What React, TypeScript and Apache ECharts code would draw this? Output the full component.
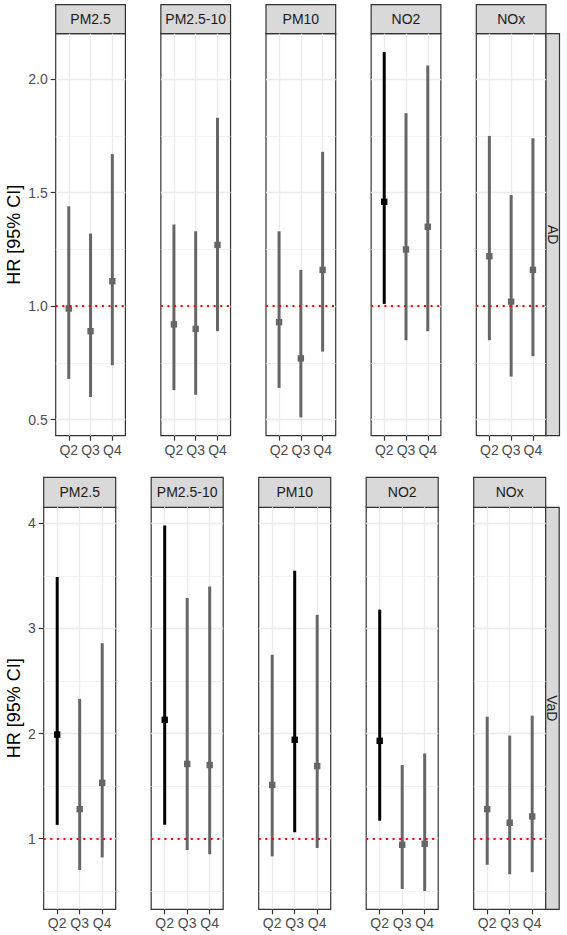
import React, { useEffect, useRef } from "react";
import * as echarts from "echarts";

// Categories
const quartiles = ["Q2", "Q3", "Q4"];
const pollutants = ["PM2.5", "PM2.5-10", "PM10", "NO2", "NOx"];
const outcomes = ["AD", "VaD"];

// Hazard ratios with 95% CI, Alzheimer's disease (AD)
const adHR = [
  [0.99, 0.89, 1.11],
  [0.92, 0.9, 1.27],
  [0.93, 0.77, 1.16],
  [1.46, 1.25, 1.35],
  [1.22, 1.02, 1.16],
];
const adLower = [
  [0.68, 0.6, 0.74],
  [0.63, 0.61, 0.89],
  [0.64, 0.51, 0.8],
  [1.01, 0.85, 0.89],
  [0.85, 0.69, 0.78],
];
const adUpper = [
  [1.44, 1.32, 1.67],
  [1.36, 1.33, 1.83],
  [1.33, 1.16, 1.68],
  [2.12, 1.85, 2.06],
  [1.75, 1.49, 1.74],
];

// Hazard ratios with 95% CI, vascular dementia (VaD)
const vadHR = [
  [1.99, 1.28, 1.53],
  [2.13, 1.71, 1.7],
  [1.51, 1.94, 1.69],
  [1.93, 0.94, 0.95],
  [1.28, 1.15, 1.21],
];
const vadLower = [
  [1.13, 0.7, 0.82],
  [1.13, 0.89, 0.85],
  [0.83, 1.06, 0.91],
  [1.17, 0.52, 0.5],
  [0.75, 0.66, 0.68],
];
const vadUpper = [
  [3.49, 2.33, 2.86],
  [3.98, 3.29, 3.4],
  [2.75, 3.55, 3.13],
  [3.18, 1.7, 1.81],
  [2.16, 1.98, 2.17],
];

// Tick labels
const adTicks = [0.5, 1.0, 1.5, 2.0];
const adMinorTicks = [0.75, 1.25, 1.75];
const vadTicks = [1, 2, 3, 4];
const vadMinorTicks = [0.5, 1.5, 2.5, 3.5];
const referenceHR = 1;

const FONT = "'Liberation Sans', Arial, Helvetica, sans-serif";
const GRID_COLOR = "#ebebeb";
const BORDER_COLOR = "#333333";

type Row = {
  outcome: string;
  hr: number[][];
  lower: number[][];
  upper: number[][];
  ticks: number[];
  minor: number[];
  digits: number;
  top: number;
  height: number;
  left0: number;
  step: number;
  width: number;
  stripTop: number;
  stripHeight: number;
  nameGap: number;
};

const rows: Row[] = [
  {
    outcome: outcomes[0],
    hr: adHR,
    lower: adLower,
    upper: adUpper,
    ticks: adTicks,
    minor: adMinorTicks,
    digits: 1,
    top: 33.7,
    height: 402,
    left0: 55.7,
    step: 105.15,
    width: 69.7,
    stripTop: 4.7,
    stripHeight: 29,
    nameGap: 33,
  },
  {
    outcome: outcomes[1],
    hr: vadHR,
    lower: vadLower,
    upper: vadUpper,
    ticks: vadTicks,
    minor: vadMinorTicks,
    digits: 0,
    top: 507.3,
    height: 402,
    left0: 43.7,
    step: 107.5,
    width: 72,
    stripTop: 477.3,
    stripHeight: 30,
    nameGap: 21,
  },
];

// ggplot-style 5% expansion of the data range
function expandedRange(lower: number[][], upper: number[][]) {
  const lo = Math.min(...lower.flat());
  const hi = Math.max(...upper.flat());
  const pad = (hi - lo) * 0.05;
  return [lo - pad, hi + pad];
}

function buildOption() {
  const grid: any[] = [];
  const xAxis: any[] = [];
  const yAxis: any[] = [];
  const series: any[] = [];
  const graphic: any[] = [];

  rows.forEach((row) => {
    const [yMin, yMax] = expandedRange(row.lower, row.upper);
    pollutants.forEach((pol, p) => {
      const gi = grid.length;
      const left = row.left0 + p * row.step;
      grid.push({
        left,
        top: row.top,
        width: row.width,
        height: row.height,
        show: true,
        borderColor: BORDER_COLOR,
        borderWidth: 1.2,
        backgroundColor: "#ffffff",
      });
      xAxis.push({
        type: "value",
        gridIndex: gi,
        min: 0.4,
        max: 3.6,
        axisLine: { show: false },
        axisTick: {
          show: true,
          customValues: [1, 2, 3],
          length: 5,
          lineStyle: { color: BORDER_COLOR, width: 1.2 },
        },
        axisLabel: {
          customValues: [1, 2, 3],
          formatter: (v: number) => quartiles[Math.round(v) - 1] ?? "",
          color: "#4d4d4d",
          fontSize: 14,
          fontWeight: "normal",
          fontFamily: FONT,
          margin: 7,
        },
        splitLine: { show: true, lineStyle: { color: GRID_COLOR, width: 1.3 } },
      });
      const majorIdx = yAxis.length;
      yAxis.push({
        type: "value",
        gridIndex: gi,
        min: yMin,
        max: yMax,
        position: "left",
        name: p === 0 ? "HR [95% CI]" : "",
        nameLocation: "middle",
        nameRotate: 90,
        nameGap: row.nameGap,
        nameTextStyle: { fontSize: 18, color: "#000000", fontFamily: FONT, fontWeight: "normal" },
        axisLine: { show: false },
        axisTick: {
          show: p === 0,
          customValues: row.ticks,
          length: 5,
          lineStyle: { color: BORDER_COLOR, width: 1.2 },
        },
        axisLabel: {
          show: p === 0,
          customValues: row.ticks,
          formatter: (v: number) => v.toFixed(row.digits),
          color: "#4d4d4d",
          fontSize: 14,
          fontWeight: "normal",
          fontFamily: FONT,
          margin: 8,
        },
        splitLine: { show: true, lineStyle: { color: GRID_COLOR, width: 1.3 } },
      });
      // minor grid lines
      yAxis.push({
        type: "value",
        gridIndex: gi,
        min: yMin,
        max: yMax,
        position: "right",
        axisLine: { show: false },
        axisTick: { show: false, customValues: row.minor },
        axisLabel: { show: false },
        splitLine: { show: true, lineStyle: { color: GRID_COLOR, width: 0.7 } },
      });

      const data = quartiles.map((q, j) => [
        j + 1,
        row.hr[p][j],
        row.lower[p][j],
        row.upper[p][j],
      ]);
      series.push({
        type: "custom",
        name: `${row.outcome} ${pol}`,
        xAxisIndex: gi,
        yAxisIndex: majorIdx,
        data,
        encode: { x: 0, y: [1, 2, 3] },
        z: 3,
        renderItem: (params: any, api: any) => {
          const x = api.value(0);
          const est = api.value(1);
          const lo = api.value(2);
          const hi = api.value(3);
          const color = lo > referenceHR ? "#000000" : "#666666";
          const pTop = api.coord([x, hi]);
          const pBot = api.coord([x, lo]);
          const pMid = api.coord([x, est]);
          return {
            type: "group",
            children: [
              {
                type: "line",
                shape: { x1: pTop[0], y1: pTop[1], x2: pBot[0], y2: pBot[1] },
                style: { stroke: color, lineWidth: 3 },
              },
              {
                type: "rect",
                shape: { x: pMid[0] - 3.2, y: pMid[1] - 3.2, width: 6.4, height: 6.4 },
                style: { fill: color },
              },
            ],
          };
        },
        markLine: {
          silent: true,
          symbol: ["none", "none"],
          label: { show: false },
          lineStyle: { color: "#ff0000", type: [2, 4.6], width: 2 },
          data: [{ yAxis: referenceHR }],
          z: 5,
        },
      });

      // facet strip on top
      graphic.push({
        type: "group",
        children: [
          {
            type: "rect",
            shape: { x: left, y: row.stripTop, width: row.width, height: row.stripHeight },
            style: { fill: "#d9d9d9", stroke: BORDER_COLOR, lineWidth: 1.2 },
          },
          {
            type: "text",
            x: left + row.width / 2,
            y: row.stripTop + row.stripHeight / 2,
            style: {
              text: pol,
              fill: "#1a1a1a",
              fontSize: 14,
              fontWeight: "normal",
              fontFamily: FONT,
              align: "center",
              verticalAlign: "middle",
            },
          },
        ],
      });
    });

    // facet strip on the right
    const right = row.left0 + 4 * row.step + row.width;
    graphic.push({
      type: "group",
      children: [
        {
          type: "rect",
          shape: { x: right, y: row.top, width: 13.5, height: row.height },
          style: { fill: "#d9d9d9", stroke: BORDER_COLOR, lineWidth: 1.2 },
        },
        {
          type: "text",
          x: right + 6.75,
          y: row.top + row.height / 2,
          rotation: -Math.PI / 2,
          style: {
            text: row.outcome,
            fill: "#1a1a1a",
            fontSize: 14,
            fontWeight: "normal",
            fontFamily: FONT,
            align: "center",
            verticalAlign: "middle",
          },
        },
      ],
    });
  });

  return {
    animation: false,
    backgroundColor: "#ffffff",
    grid,
    xAxis,
    yAxis,
    series,
    graphic,
  };
}

export default function App() {
  const ref = useRef<HTMLDivElement>(null);
  useEffect(() => {
    if (!ref.current) return;
    const chart = echarts.init(ref.current, null, { renderer: "svg" });
    chart.setOption(buildOption() as any);
    return () => chart.dispose();
  }, []);
  return (
    <div
      ref={ref}
      style={{ position: "absolute", left: 0, top: 0, width: 567, height: 935 }}
    />
  );
}
